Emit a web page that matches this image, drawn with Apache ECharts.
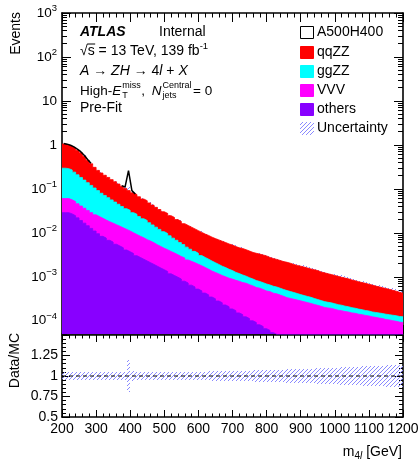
<!DOCTYPE html>
<html>
<head>
<meta charset="utf-8">
<script src="https://cdn.jsdelivr.net/npm/echarts@6/dist/echarts.min.js"></script>
<style>
  html, body { margin: 0; padding: 0; background: #fff; }
  #chart { width: 419px; height: 459px; }
</style>
</head>
<body>
<div id="chart"></div>
<script>
// Binning of the m4l histogram (GeV)
const BIN_LOW = 200;
const BIN_WIDTH = 10;

// Expected events per bin, 200-1190 GeV (lower bin edges)
const qqZZ = [
  0.752, 0.712, 0.664, 0.611, 0.550, 0.479, 0.392, 0.309, 0.252, 0.204,
  0.172, 0.150, 0.133, 0.119, 0.106, 0.095, 0.084, 0.075, 0.067, 0.0588,
  0.0525, 0.0478, 0.0427, 0.0380, 0.0346, 0.0309, 0.0276, 0.0245, 0.0219, 0.0195,
  0.0180, 0.0160, 0.0148, 0.0132, 0.0122, 0.0108, 0.0100, 0.0092, 0.0085, 0.0078,
  0.0072, 0.0066, 0.0062, 0.0057, 0.0053, 0.0050, 0.0047, 0.0044, 0.0041, 0.0039,
  0.0036, 0.0034, 0.0033, 0.0031, 0.0029, 0.0027, 0.0026, 0.0025, 0.0024, 0.0023,
  0.0021, 0.0020, 0.0019, 0.0018, 0.0017, 0.00165, 0.00157, 0.00147, 0.00140, 0.00135,
  0.00129, 0.00123, 0.00117, 0.00113, 0.00108, 0.00100, 0.00096, 0.00091, 0.00087, 0.00083,
  0.00079, 0.00075, 0.00072, 0.00069, 0.00065, 0.00062, 0.00059, 0.00056, 0.00054, 0.00051,
  0.00049, 0.00046, 0.00044, 0.00042, 0.00040, 0.00038, 0.00036, 0.00034, 0.00032, 0.00030
];
const ggZZ = [
  0.235, 0.228, 0.213, 0.189, 0.163, 0.141, 0.122, 0.106, 0.091, 0.079,
  0.0678, 0.0580, 0.0513, 0.0451, 0.0396, 0.0348, 0.0306, 0.0268, 0.0235, 0.0214,
  0.0188, 0.0172, 0.0151, 0.0132, 0.0121, 0.0105, 0.0092, 0.0081, 0.0071, 0.0062,
  0.0055, 0.0048, 0.0041, 0.0036, 0.0031, 0.0027, 0.0023, 0.0020, 0.0017, 0.0015,
  0.00126, 0.00113, 0.00103, 0.00093, 0.00083, 0.00075, 0.00067, 0.00062, 0.00055, 0.00050,
  0.00043, 0.00039, 0.00036, 0.00032, 0.00029, 0.00027, 0.00025, 0.00023, 0.00022, 0.00021,
  0.00019, 0.000185, 0.000175, 0.000165, 0.000155, 0.00015, 0.00014, 0.00013, 0.00012, 0.00011,
  0.000103, 0.000098, 0.000094, 0.000086, 0.000080, 0.000075, 0.000071, 0.000068, 0.000064, 0.000062,
  0.000059, 0.000056, 0.000053, 0.000050, 0.000048, 0.000045, 0.000043, 0.000041, 0.000039, 0.000038,
  0.000036, 0.000035, 0.000035, 0.000034, 0.000034, 0.000033, 0.000033, 0.000033, 0.000032, 0.000032
];
const VVV = [
  0.0315, 0.0315, 0.0293, 0.0268, 0.0238, 0.0216, 0.0197, 0.0179, 0.0162, 0.0147,
  0.0139, 0.0131, 0.0119, 0.0112, 0.0104, 0.0098, 0.0091, 0.0084, 0.0079, 0.0073,
  0.0066, 0.0061, 0.0056, 0.0052, 0.0047, 0.0044, 0.0040, 0.0036, 0.0033, 0.0030,
  0.0028, 0.0026, 0.0024, 0.0022, 0.0020, 0.0019, 0.0017, 0.0016, 0.0015, 0.0014,
  0.0013, 0.0012, 0.0011, 0.0010, 0.00094, 0.00088, 0.00081, 0.00077, 0.00072, 0.00070,
  0.00066, 0.00064, 0.00060, 0.00059, 0.00055, 0.00052, 0.00048, 0.00047, 0.00044, 0.00041,
  0.00040, 0.00037, 0.00036, 0.00034, 0.00032, 0.00030, 0.00029, 0.00028, 0.00027, 0.00026,
  0.00025, 0.00024, 0.00023, 0.00022, 0.00021, 0.00020, 0.00019, 0.000185, 0.000182, 0.000174,
  0.000166, 0.000163, 0.000156, 0.000153, 0.000146, 0.000143, 0.000137, 0.000134, 0.000129, 0.000126,
  0.000120, 0.000117, 0.000113, 0.000110, 0.000105, 0.000103, 0.000099, 0.000096, 0.000092, 0.000090
];
const others = [
  0.0288, 0.0288, 0.0269, 0.0245, 0.0219, 0.0191, 0.0166, 0.0145, 0.0126, 0.0110,
  0.00955, 0.00832, 0.00759, 0.00676, 0.00617, 0.00550, 0.00501, 0.00457, 0.00407, 0.00372,
  0.00339, 0.00302, 0.00275, 0.00251, 0.00229, 0.00209, 0.00191, 0.00174, 0.00158, 0.00145,
  0.00132, 0.00117, 0.00107, 0.000977, 0.000891, 0.000794, 0.000724, 0.000646, 0.000589, 0.000525,
  0.000479, 0.000427, 0.000389, 0.000347, 0.000316, 0.000282, 0.000257, 0.000229, 0.000209, 0.000186,
  0.000170, 0.000151, 0.000138, 0.000123, 0.000112, 0.000100, 0.0000912, 0.0000813, 0.0000741, 0.0000661,
  0.0000603, 0.0000537, 0.0000490, 0.0000437, 0.0000398, 0.0000355, 0.0000324, 0.0000288, 0.0000263, 0.0000234,
  0.0000214, 0.0000191, 0.0000174, 0.0000155, 0.0000141, 0.0000126, 0.0000115, 0.0000102, 0.0000093, 0.0000083,
  0.0000076, 0.0000068, 0.0000062, 0.0000055, 0.0000050, 0.0000045, 0.0000041, 0.0000037, 0.0000033, 0.0000030,
  0.0000027, 0.0000025, 0.0000022, 0.0000020, 0.0000018, 0.0000016, 0.0000015, 0.0000013, 0.0000012, 0.0000011
];
// Relative uncertainty of the total prediction per bin
const relUncertainty = [
  0.050, 0.046, 0.045, 0.044, 0.045, 0.044, 0.045, 0.046, 0.045, 0.044,
  0.045, 0.044, 0.045, 0.046, 0.045, 0.044, 0.045, 0.046, 0.050, 0.200,
  0.055, 0.045, 0.046, 0.045, 0.046, 0.047, 0.046, 0.047, 0.048, 0.047,
  0.048, 0.049, 0.048, 0.050, 0.049, 0.050, 0.051, 0.050, 0.052, 0.053,
  0.052, 0.053, 0.054, 0.055, 0.056, 0.057, 0.058, 0.059, 0.060, 0.061,
  0.062, 0.063, 0.064, 0.065, 0.066, 0.067, 0.068, 0.069, 0.070, 0.072,
  0.073, 0.074, 0.076, 0.077, 0.078, 0.080, 0.081, 0.082, 0.084, 0.085,
  0.087, 0.088, 0.090, 0.091, 0.093, 0.094, 0.096, 0.097, 0.099, 0.100,
  0.102, 0.104, 0.105, 0.107, 0.109, 0.110, 0.112, 0.114, 0.116, 0.118,
  0.119, 0.121, 0.123, 0.125, 0.127, 0.129, 0.131, 0.133, 0.136, 0.140
];
// Signal A500H400 on top of the background, bins 200-410 GeV (null: not drawn)
const signalA500H400 = [
  0.030, 0.040, 0.050, 0.050, 0.045, 0.040, 0.030, 0.020, 0.012, null,
  null, null, null, null, null, null, null, 0.004, 0.008, 0.170,
  0.010, 0.002
];
// Axis tick values
const massTicks = [200, 300, 400, 500, 600, 700, 800, 900, 1000, 1100, 1200];
const eventDecades = [1e-4, 1e-3, 1e-2, 1e-1, 1, 10, 100, 1000];
const ratioTicks = [0.5, 0.75, 1, 1.25, 1.5];

const FONT = '"Liberation Sans", Arial, Helvetica, sans-serif';
const HATCH_COLOR = '#8a8aff';
const HATCH_STEP = 4;

// ---- derived quantities ----
const nBins = qqZZ.length;
const edges = [];
for (let i = 0; i <= nBins; i++) edges.push(BIN_LOW + i * BIN_WIDTH);
const sOthers = others.slice();
const sVVV = sOthers.map((v, i) => v + VVV[i]);
const sGG = sVVV.map((v, i) => v + ggZZ[i]);
const total = sGG.map((v, i) => v + qqZZ[i]);

function stepData(vals) {
  const d = vals.map((v, i) => [edges[i], v]);
  d.push([edges[nBins], vals[nBins - 1]]);
  return d;
}

// "/" hatch drawn pixel by pixel on the page grid inside a rectangle
function hatchPixels(x0, y0, x1, y1) {
  const out = [];
  const xa = Math.round(Math.min(x0, x1)), xb = Math.round(Math.max(x0, x1));
  let ya = Math.round(Math.min(y0, y1)), yb = Math.round(Math.max(y0, y1));
  if (yb - ya < 1) yb = ya + 1;
  for (let py = ya; py < yb; py++) {
    for (let px = xa; px < xb; px++) {
      if ((px + py) % HATCH_STEP === 0) {
        out.push({ type: 'rect', silent: true,
          shape: { x: px, y: py, width: 1, height: 1 },
          style: { fill: HATCH_COLOR, stroke: null } });
      }
    }
  }
  return out;
}

// minor ticks of the log axis (2..9 x 10^k)
const logMinor = [];
for (let e = -5; e <= 2; e++) {
  for (let k = 2; k <= 9; k++) {
    const v = k * Math.pow(10, e);
    if (v > 4.99e-5 && v < 1000) logMinor.push(v);
  }
}

const tickLine = { color: '#000', width: 1 };
const frameLine = { color: '#000', width: 1.6 };

function massAxis(grid, pos, withLabels) {
  return {
    type: 'value', gridIndex: grid, position: pos, min: 200, max: 1200, interval: 100,
    axisLine: { show: true, onZero: false, lineStyle: frameLine },
    axisTick: { show: true, inside: true, length: grid === 0 ? 9 : 7, lineStyle: tickLine },
    minorTick: { show: true, splitNumber: 5, length: grid === 0 ? 4.5 : 3.5, lineStyle: tickLine },
    splitLine: { show: false }, minorSplitLine: { show: false },
    axisLabel: withLabels ? {
      show: true, interval: 0, margin: 5, color: '#000', fontSize: 14, fontFamily: FONT,
      customValues: massTicks, formatter: v => String(v)
    } : { show: false }
  };
}

function logAxis(pos, major, withLabels) {
  return {
    type: 'log', logBase: 10, gridIndex: 0, position: pos, min: 5e-5, max: 1000,
    axisLine: { show: major, onZero: false, lineStyle: frameLine },
    axisTick: { show: true, inside: true, length: major ? 9 : 5, lineStyle: tickLine,
                customValues: major ? eventDecades : logMinor },
    minorTick: { show: false },
    splitLine: { show: false },
    axisLabel: withLabels ? {
      show: true, margin: 5, color: '#000', customValues: eventDecades,
      formatter: v => {
        const e = Math.round(Math.log10(v));
        if (e === 0) return '{b|1}';
        if (e === 1) return '{b|10}';
        return '{b|10}{s|' + (e < 0 ? '\u2212' : '') + Math.abs(e) + '}';
      },
      rich: {
        b: { fontSize: 13.5, fontFamily: FONT, color: '#000' },
        s: { fontSize: 9.5, fontFamily: FONT, color: '#000', padding: [0, 0, 9, 0] }
      }
    } : { show: false }
  };
}

function ratioAxis(pos, withLabels) {
  return {
    type: 'value', gridIndex: 1, position: pos, min: 0.5, max: 1.5, interval: 0.25,
    axisLine: { show: true, onZero: false, lineStyle: frameLine },
    axisTick: { show: true, inside: true, length: 8, lineStyle: tickLine },
    minorTick: { show: true, splitNumber: 5, length: 4, lineStyle: tickLine },
    splitLine: { show: false }, minorSplitLine: { show: false },
    axisLabel: withLabels ? {
      show: true, margin: 4, color: '#000', fontSize: 14, fontFamily: FONT,
      customValues: ratioTicks.slice(0, 4), formatter: v => String(v)
    } : { show: false }
  };
}

function layer(name, vals, color) {
  return {
    name, type: 'line', xAxisIndex: 0, yAxisIndex: 0, data: stepData(vals), step: 'end',
    symbol: 'none', showSymbol: false, silent: true, clip: true,
    lineStyle: { color, width: 0.8 }, itemStyle: { color },
    areaStyle: { color, opacity: 1, origin: 'start' }
  };
}

function band(xIdx, yIdx, lo, hi) {
  const data = lo.map((l, i) => [edges[i], edges[i + 1], l, hi[i]]);
  return {
    type: 'custom', xAxisIndex: xIdx, yAxisIndex: yIdx, data, clip: true, silent: true,
    encode: { x: [0, 1], y: [2, 3] },
    itemStyle: { color: HATCH_COLOR },
    renderItem: (params, api) => {
      const p0 = api.coord([api.value(0), api.value(3)]);
      const p1 = api.coord([api.value(1), api.value(2)]);
      return { type: 'group', children: hatchPixels(p0[0], p0[1], p1[0], p1[1]) };
    }
  };
}

// signal + background line at bin centres
const signalLine = signalA500H400.map((s, i) =>
  [edges[i] + BIN_WIDTH / 2, s === null ? null : total[i] + s]);

// ---- text layout helpers ----
const mctx = document.createElement('canvas').getContext('2d');
function tw(s, size, style) {
  mctx.font = (style || '') + ' ' + size + 'px ' + FONT;
  return mctx.measureText(s).width;
}
function T(x, y, text, extra) {
  return {
    type: 'text', x, y, z: 100, silent: true,
    style: Object.assign({ text, fontSize: 14, fontFamily: FONT, fill: '#000',
                           align: 'left', verticalAlign: 'middle' }, extra || {})
  };
}

const graphics = [];
// label block
graphics.push(T(80, 32, 'ATLAS', { fontWeight: 'bold', fontStyle: 'italic' }));
graphics.push(T(159, 32, 'Internal'));
graphics.push(T(80, 51, '{t|\u221As = 13 TeV, 139 fb}{u|-1}', {
  rich: {
    t: { fontSize: 14, fontFamily: FONT, fill: '#000' },
    u: { fontSize: 9.5, fontFamily: FONT, fill: '#000', padding: [0, 0, 9, 0] }
  }
}));
(function () {
  const x0 = 80 + tw('\u221A', 14);
  graphics.push({ type: 'line', z: 100, silent: true,
    shape: { x1: x0 - 0.5, y1: 44, x2: x0 + tw('s', 14) + 0.5, y2: 44 },
    style: { stroke: '#000', lineWidth: 1 } });
})();
graphics.push(T(80, 71, '{i|A} \u2192 {i|ZH} \u2192 4{i|l} + {i|X}', {
  rich: { i: { fontSize: 14, fontFamily: FONT, fontStyle: 'italic', fill: '#000' } }
}));
(function () {
  const y = 91;
  const base = 13.5, small = 9;
  let x = 80;
  graphics.push(T(x, y, 'High-', { fontSize: base }));
  x += tw('High-', base);
  graphics.push(T(x, y, 'E', { fontSize: base, fontStyle: 'italic' }));
  x += tw('E', base, 'italic') + 1;
  graphics.push(T(x, y - 5.5, 'miss', { fontSize: small }));
  graphics.push(T(x, y + 5, 'T', { fontSize: small }));
  x += Math.max(tw('miss', small), tw('T', small)) + 0.5;
  graphics.push(T(x, y, ',', { fontSize: base }));
  x += tw(', ', base) + 3;
  graphics.push(T(x, y, 'N', { fontSize: base, fontStyle: 'italic' }));
  x += tw('N', base, 'italic') + 1;
  graphics.push(T(x, y - 5.5, 'Central', { fontSize: small }));
  graphics.push(T(x, y + 5, 'jets', { fontSize: small }));
  x += Math.max(tw('Central', small), tw('jets', small)) + 1.5;
  graphics.push(T(x, y, '= 0', { fontSize: base }));
})();
graphics.push(T(80, 108, 'Pre-Fit'));

// legend
const legendRows = [
  { label: 'A500H400', fill: '#fff', stroke: '#000' },
  { label: 'qqZZ', fill: '#ff0000', stroke: '#ff0000' },
  { label: 'ggZZ', fill: '#00ffff', stroke: '#00ffff' },
  { label: 'VVV', fill: '#ff00ff', stroke: '#ff00ff' },
  { label: 'others', fill: '#8800ff', stroke: '#8800ff' },
  { label: 'Uncertainty', fill: null, stroke: null }
];
const legendY = [32, 52, 71, 90, 109, 128];
legendRows.forEach((r, i) => {
  const bx = 300, by = legendY[i] - 6;
  if (r.fill) {
    graphics.push({ type: 'rect', z: 100, silent: true,
      shape: { x: bx + 0.5, y: by + 0.5, width: 13, height: 12 },
      style: { fill: r.fill, stroke: r.stroke, lineWidth: 1 } });
  } else {
    hatchPixels(bx, by, bx + 14, by + 13).forEach(p => { p.z = 100; graphics.push(p); });
  }
  graphics.push(T(317, legendY[i], r.label));
});

// axis titles
graphics.push(T(16, 12, 'Events', { align: 'right' }));
graphics[graphics.length - 1].rotation = Math.PI / 2;
graphics.push(T(15, 333, 'Data/MC', { align: 'right' }));
graphics[graphics.length - 1].rotation = Math.PI / 2;
graphics.push(T(402, 452, '{n|m}{b|4}{bi|l}{n| [GeV]}', {
  align: 'right',
  rich: {
    n: { fontSize: 14, fontFamily: FONT, fill: '#000' },
    b: { fontSize: 10, fontFamily: FONT, fill: '#000', padding: [8, 0, 0, 0] },
    bi: { fontSize: 10, fontFamily: FONT, fontStyle: 'italic', fill: '#000', padding: [8, 0, 0, 0] }
  }
}));

const option = {
  animation: false,
  backgroundColor: '#fff',
  grid: [
    { left: 62, right: 16, top: 13, height: 321, outerBoundsMode: 'none', containLabel: false },
    { left: 62, right: 16, top: 335, height: 82, outerBoundsMode: 'none', containLabel: false }
  ],
  xAxis: [
    massAxis(0, 'bottom', false),
    massAxis(0, 'top', false),
    massAxis(1, 'bottom', true),
    massAxis(1, 'top', false)
  ],
  yAxis: [
    logAxis('left', true, true),
    logAxis('left', false, false),
    logAxis('right', true, false),
    logAxis('right', false, false),
    ratioAxis('left', true),
    ratioAxis('right', false)
  ],
  series: [
    layer('qqZZ', total, '#ff0000'),
    layer('ggZZ', sGG, '#00ffff'),
    layer('VVV', sVVV, '#ff00ff'),
    layer('others', sOthers, '#8800ff'),
    band(0, 0, total.map((t, i) => t * (1 - relUncertainty[i])),
               total.map((t, i) => t * (1 + relUncertainty[i]))),
    {
      name: 'A500H400', type: 'line', xAxisIndex: 0, yAxisIndex: 0, data: signalLine,
      symbol: 'none', showSymbol: false, connectNulls: false, silent: true,
      lineStyle: { color: '#000', width: 1.5 }
    },
    band(2, 4, relUncertainty.map(e => 1 - e), relUncertainty.map(e => 1 + e)),
    {
      type: 'line', xAxisIndex: 2, yAxisIndex: 4, data: [[200, 1], [1200, 1]],
      symbol: 'none', silent: true,
      lineStyle: { color: '#000', width: 1, type: [4, 3] }
    }
  ],
  graphic: graphics
};

const chart = echarts.init(document.getElementById('chart'), null, { renderer: 'canvas' });
chart.setOption(option);
</script>
</body>
</html>
